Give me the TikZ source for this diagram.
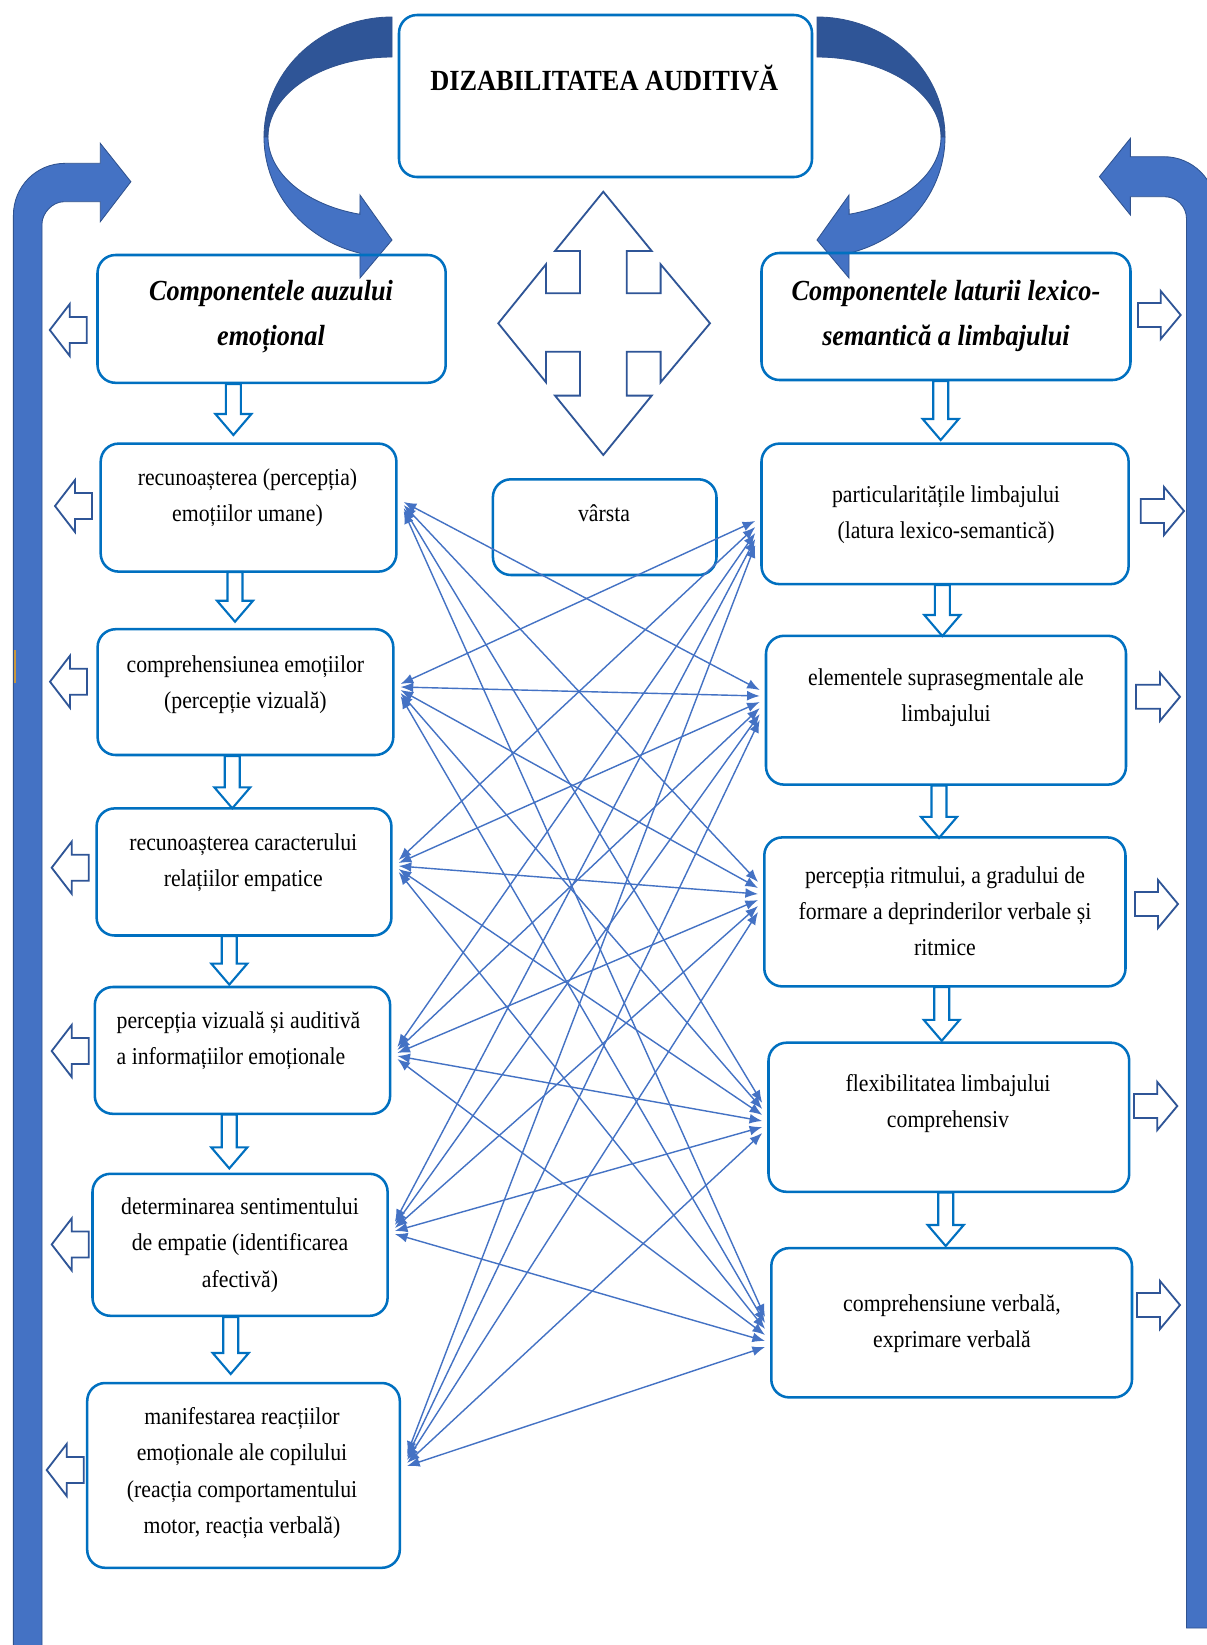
\documentclass[tikz,border=0pt]{standalone}
\usepackage{fontspec}
\setmainfont{Liberation Serif}[FakeStretch=0.9]
\usetikzlibrary{arrows.meta,fit,calc}
\definecolor{boxblue}{HTML}{0070C0}
\definecolor{arrblue}{HTML}{4472C4}
\definecolor{darkblue}{HTML}{2F5597}
\definecolor{edgeblue}{HTML}{2F528F}
\definecolor{marktan}{HTML}{C8963C}
\newcommand\dnarr[3]{\draw[darrs] (#1-7.5,#2) -- (#1+7.5,#2) -- (#1+7.5,#3-21) -- (#1+18,#3-21) -- (#1,#3) -- (#1-18,#3-21) -- (#1-7.5,#3-21) -- cycle;}
\newcommand\lfarr[2]{\draw[sarrow] (#1,#2) -- (#1+20,#2-26) -- (#1+20,#2-13) -- (#1+37,#2-13) -- (#1+37,#2+13) -- (#1+20,#2+13) -- (#1+20,#2+26) -- cycle;}
\newcommand\rtarr[3]{\draw[sarrow] (#2,#3) -- (#2-20,#3-24) -- (#2-20,#3-12) -- (#1,#3-12) -- (#1,#3+12) -- (#2-20,#3+12) -- (#2-20,#3+24) -- cycle;}
\begin{document}
\begin{tikzpicture}[x=0.025cm,y=-0.025cm,
  box/.style={draw=boxblue, line width=1.8pt, rounded corners=0.45cm, inner sep=0pt},
  txt/.style={align=center, inner sep=0pt, font=\fontsize{17.2}{25.8}\selectfont},
  headtxt/.style={align=center, inner sep=0pt, font=\fontsize{20.7}{32}\selectfont\bfseries\itshape},
  titletxt/.style={inner sep=0pt, font=\fontsize{20.8}{25}\selectfont\bfseries},
  sarrow/.style={draw=darkblue, line width=1.3pt, fill=white, line join=miter},
  darrs/.style={draw=boxblue, line width=1.5pt, fill=white, line join=miter},
  conn/.style={draw=arrblue, line width=1pt, {Latex[length=9pt,width=7pt]}-{Latex[length=9pt,width=7pt]}},
  big/.style={fill=arrblue, draw=edgeblue, line width=0.6pt},
  bigdark/.style={fill=darkblue, draw=edgeblue, line width=0.6pt}]
\useasboundingbox (0,0) rectangle (1207,1645);
\clip (0,0) rectangle (1207,1645);
\fill[white] (0,0) rectangle (1207,1645);

% big side arrows
\draw[big] (13.4,1650) -- (13.4,215.3) .. controls (13.4,186.6) and (36.1,163.3) .. (65.4,163.3) -- (100.3,163.3) -- (100.3,143.3) -- (130.9,181.7) -- (100.3,221.7) -- (100.3,201.7) -- (64,201.7) .. controls (51.85,201.7) and (42,213.85) .. (42,223.7) -- (42,1650) -- cycle;
\draw[big] (1130.4,156.7) -- (1164,156.7) .. controls (1192.7,156.7) and (1216,180) .. (1216,208.7) -- (1216,1628) -- (1186.5,1628) -- (1186.5,218.7) .. controls (1186.5,206.55) and (1176.65,196.7) .. (1164.5,196.7) -- (1130.4,196.7) -- (1130.4,215) -- (1099.4,176.7) -- (1130.4,138.3) -- cycle;
\draw[color=marktan, line width=1.5pt] (15,650) -- (15,683);

% curved arrows at the top
\draw[bigdark] plot[domain=-90:-180,samples=40] ({392+128*cos(\x)},{137+120*sin(\x)}) -- plot[domain=-180:-90,samples=40] ({392+124*cos(\x)},{137+80*sin(\x)}) -- cycle;
\draw[big] plot[domain=180:104.5,samples=40] ({392+128*cos(\x)},{137+120*sin(\x)}) -- (360,278) -- (392,240) -- (360,195) -- plot[domain=105:180,samples=40] ({392+124*cos(\x)},{137+80*sin(\x)}) -- cycle;
\draw[bigdark] plot[domain=-90:-180,samples=40] ({817-128*cos(\x)},{137+120*sin(\x)}) -- plot[domain=-180:-90,samples=40] ({817-124*cos(\x)},{137+80*sin(\x)}) -- cycle;
\draw[big] plot[domain=180:104.5,samples=40] ({817-128*cos(\x)},{137+120*sin(\x)}) -- (849,278) -- (817,240) -- (849,195) -- plot[domain=105:180,samples=40] ({817-124*cos(\x)},{137+80*sin(\x)}) -- cycle;

% four-way arrow
\draw[sarrow] (603.3,191.7) -- (651.7,251) -- (626.7,251) -- (626.7,293.3) -- (660.6,293.3) -- (660.6,264.3) -- (710,323.3) -- (660.6,382.3) -- (660.6,351.7) -- (626.7,351.7) -- (626.7,395.6) -- (651.7,395.6) -- (603.3,455) -- (555,395.6) -- (580,395.6) -- (580,351.7) -- (546,351.7) -- (546,382.3) -- (498.3,323.3) -- (546,264.3) -- (546,293.3) -- (580,293.3) -- (580,251) -- (555,251) -- cycle;

% boxes
\node[box, fit={(399,15)(812,177)}] (T) {};
\node[box, fit={(97.5,255)(445.7,382.8)}] (L0) {};
\node[box, fit={(761.5,253)(1130.5,380)}] (R0) {};
\node[box, fit={(100.7,443.6)(396.4,571.6)}] (L1) {};
\node[box, fit={(97.6,629.2)(393.3,755)}] (L2) {};
\node[box, fit={(96.6,808.4)(391.4,935.5)}] (L3) {};
\node[box, fit={(94.8,987)(390.1,1113.8)}] (L4) {};
\node[box, fit={(92.5,1173.8)(387.6,1315.8)}] (L5) {};
\node[box, fit={(87.2,1383)(399.8,1567.8)}] (L6) {};
\node[box, fit={(492.9,479.3)(716.5,575)}] (V) {};
\node[box, fit={(761.5,443.6)(1128.6,584.1)}] (R1) {};
\node[box, fit={(766,635.8)(1126,784.6)}] (R2) {};
\node[box, fit={(764.3,837.4)(1125.5,986.4)}] (R3) {};
\node[box, fit={(768.5,1042.7)(1129.2,1191.8)}] (R4) {};
\node[box, fit={(771.3,1248.1)(1132,1397.4)}] (R5) {};

% texts
\node[titletxt, anchor=base] (tT) at (604.3,90.7) {DIZABILITATEA AUDITIVĂ};
\node[headtxt] (tL0) at (271,317) {Componentele auzului\\emoțional};
\node[headtxt] (tR0) at (946,316) {Componentele laturii lexico-\\semantică a limbajului};
\node[txt] (tL1) at (247.5,498) {recunoașterea (percepția)\\emoțiilor umane)};
\node[txt] (tL2) at (245.4,685) {comprehensiunea emoțiilor\\(percepție vizuală)};
\node[txt] (tL3) at (243.3,863) {recunoașterea caracterului\\relațiilor empatice};
\node[txt, align=left, anchor=west] (tL4) at (116.4,1041) {percepția vizuală și auditivă\\a informațiilor emoționale};
\node[txt] (tL5) at (240,1245) {determinarea sentimentului\\de empatie (identificarea\\afectivă)};
\node[txt] (tL6) at (242,1473) {manifestarea reacțiilor\\emoționale ale copilului\\(reacția comportamentului\\motor, reacția verbală)};
\node[txt, anchor=base] (tV) at (604,521) {vârsta};
\node[txt] (tR1) at (946,515) {particularitățile limbajului\\(latura lexico-semantică)};
\node[txt] (tR2) at (946,698) {elementele suprasegmentale ale\\limbajului};
\node[txt] (tR3) at (945,911) {percepția ritmului, a gradului de\\formare a deprinderilor verbale și\\ritmice};
\node[txt] (tR4) at (948,1103.5) {flexibilitatea limbajului\\comprehensiv};
\node[txt] (tR5) at (952,1324) {comprehensiune verbală,\\exprimare verbală};

% down arrows
\dnarr{233.4}{384}{435}
\dnarr{235}{572}{621.7}
\dnarr{232.3}{756}{808.3}
\dnarr{229.3}{936}{984.6}
\dnarr{229.3}{1114.5}{1168.4}
\dnarr{230.7}{1317}{1374}
\dnarr{940.7}{381}{440}
\dnarr{942.3}{585}{636}
\dnarr{939}{785.5}{837.9}
\dnarr{941.7}{987}{1040.8}
\dnarr{945.7}{1192.5}{1246}

% side arrows
\lfarr{49.8}{330}
\lfarr{55}{506}
\lfarr{50}{681.7}
\lfarr{51.7}{867.7}
\lfarr{51.7}{1051}
\lfarr{51.7}{1244.4}
\lfarr{46.7}{1470}
\rtarr{1138}{1180.7}{315}
\rtarr{1140.7}{1184}{511}
\rtarr{1136}{1180}{696.8}
\rtarr{1135}{1178}{904}
\rtarr{1134}{1177.3}{1106}
\rtarr{1137}{1180}{1305}

% connectors
\foreach \i/\ly in {1/505,2/690,3/866,4/1053,5/1228,6/1460}{
  \foreach \j/\ry in {1/530,2/705,3/897,4/1118,5/1332}{
    \ifnum\i\j=11\relax\else
      \pgfmathsetmacro\dl{(\j-3)*3}
      \pgfmathsetmacro\dr{(\i-3.5)*6}
      \draw[conn] ($(L\i.east |- 0,\ly)+(6,\dl)$) -- ($(R\j.west |- 0,\ry)+(-5,\dr)$);
    \fi
  }
}
\end{tikzpicture}
\end{document}
